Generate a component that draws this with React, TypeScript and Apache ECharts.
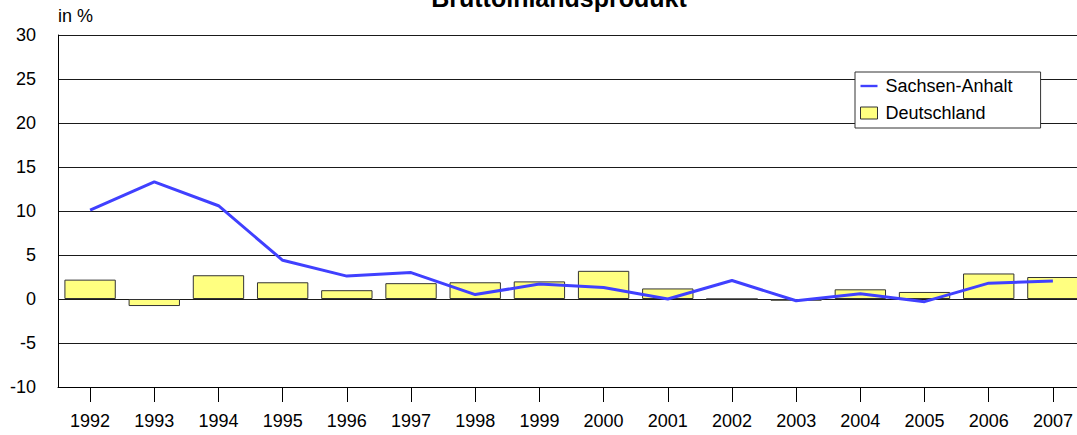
import React, { useEffect, useRef } from "react";
import * as echarts from "echarts";

const years = ["1992","1993","1994","1995","1996","1997","1998","1999","2000","2001","2002","2003","2004","2005","2006","2007"];
const sachsenAnhalt = [10.1, 13.3, 10.6, 4.4, 2.6, 3.0, 0.5, 1.7, 1.3, 0.0, 2.1, -0.2, 0.6, -0.3, 1.8, 2.05];
const deutschland = [2.2, -0.8, 2.7, 1.9, 1.0, 1.8, 1.9, 2.0, 3.2, 1.2, 0.0, -0.2, 1.1, 0.8, 2.9, 2.5];
const titleText = "Bruttoinlandsprodukt";
const unitText = "in %";

const FONT = "'Liberation Sans', Arial, sans-serif";

export default function App() {
  const ref = useRef<HTMLDivElement>(null);
  useEffect(() => {
    if (!ref.current) return;
    const chart = echarts.init(ref.current, null, { renderer: "svg" });
    chart.setOption({
      animation: false,
      backgroundColor: "#ffffff",
      textStyle: { fontFamily: FONT },
      graphic: [
        {
          type: "text",
          x: 559,
          y: -2,
          style: {
            text: titleText,
            font: `bold 25px ${FONT}`,
            fill: "#000",
            align: "center",
            verticalAlign: "middle",
          },
        },
        {
          type: "text",
          x: 58,
          y: 16,
          style: {
            text: unitText,
            font: `18px ${FONT}`,
            fill: "#000",
            align: "left",
            verticalAlign: "middle",
          },
        },
      ],
      legend: {
        orient: "vertical",
        left: 855,
        top: 72,
        itemWidth: 17,
        itemHeight: 12,
        itemGap: 9,
        padding: [5, 28, 6, 5],
        backgroundColor: "#fff",
        borderColor: "#333",
        borderWidth: 1,
        borderRadius: 0,
        symbolKeepAspect: true,
        textStyle: { fontSize: 18, color: "#000", fontFamily: FONT, padding: [0, 0, 0, 3] },
        data: [
          { name: "Sachsen-Anhalt", icon: "path://M0,0H20V2.8H0Z", itemStyle: { color: "#4040ff", borderWidth: 0 } },
          { name: "Deutschland", icon: "rect", itemStyle: { color: "#ffff80", borderColor: "#333", borderWidth: 1 } },
        ],
      },
      grid: { left: 58, top: 35, width: 1027, height: 352, containLabel: false, outerBoundsMode: "none" },
      xAxis: {
        type: "category",
        data: years,
        boundaryGap: true,
        axisLine: { onZero: false, lineStyle: { color: "#000", width: 1 } },
        axisTick: { show: true, alignWithLabel: true, length: 15, lineStyle: { color: "#000" } },
        axisLabel: { margin: 25, fontSize: 18, color: "#000", fontFamily: FONT },
        splitLine: { show: false },
      },
      yAxis: {
        type: "value",
        min: -10,
        max: 30,
        interval: 5,
        axisLine: { show: true, lineStyle: { color: "#000", width: 1 } },
        axisTick: { show: false },
        axisLabel: { margin: 22, fontSize: 18, color: "#000", fontFamily: FONT },
        splitLine: { show: true, lineStyle: { color: "#1a1a1a", width: 1 } },
      },
      series: [
        {
          name: "Deutschland",
          type: "bar",
          data: deutschland,
          barCategoryGap: "20%",
          itemStyle: { color: "#ffff80", borderColor: "#333", borderWidth: 1 },
          z: 2,
        },
        {
          name: "Sachsen-Anhalt",
          type: "line",
          data: sachsenAnhalt,
          symbol: "none",
          lineStyle: { color: "#4040ff", width: 3 },
          itemStyle: { color: "#4040ff" },
          z: 3,
        },
      ],
    });
    return () => chart.dispose();
  }, []);
  return (
    <div
      ref={ref}
      style={{ position: "absolute", left: 0, top: 0, width: 1077, height: 435 }}
    />
  );
}
